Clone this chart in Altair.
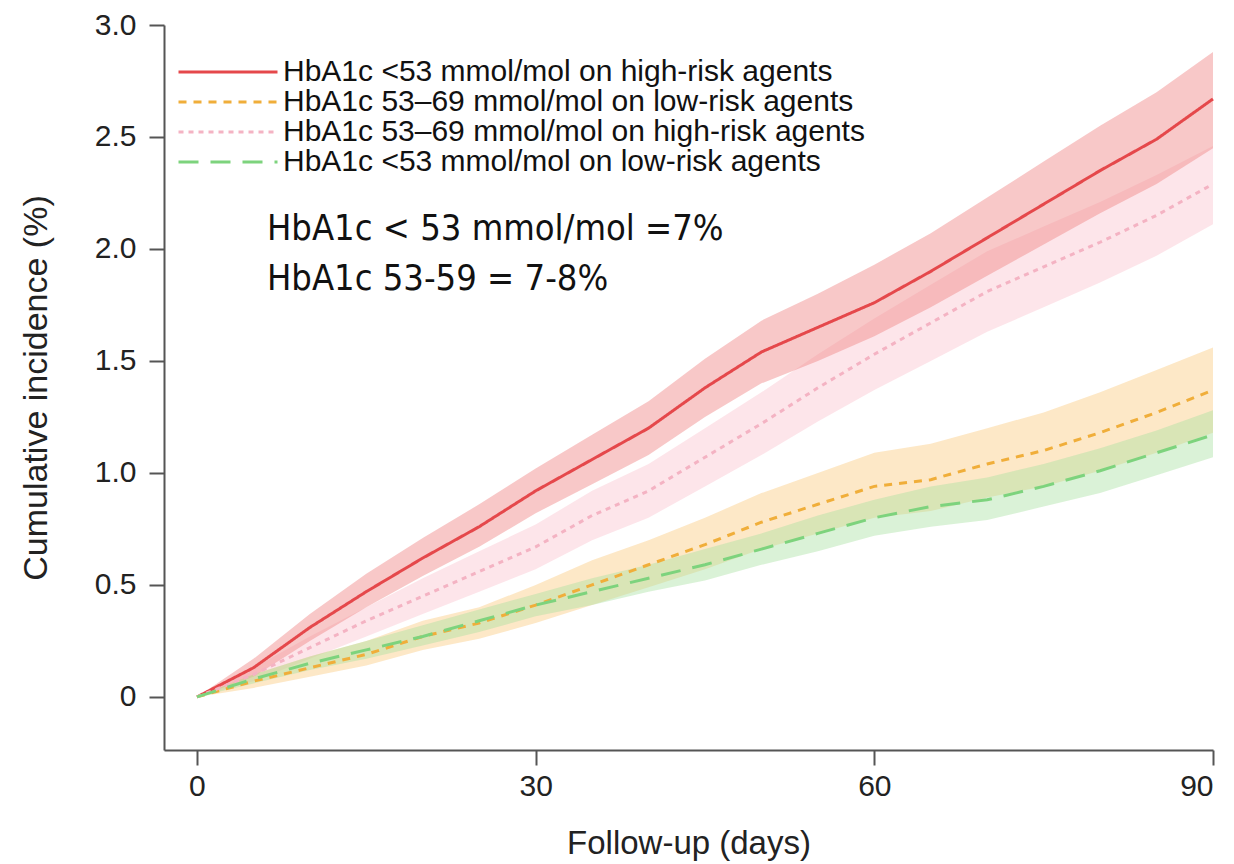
import altair as alt
import pandas as pd

days = [0, 5, 10, 15, 20, 25, 30, 35, 40, 45, 50, 55, 60, 65, 70, 75, 80, 85, 90]

series_names = [
    "HbA1c <53 mmol/mol on high-risk agents",
    "HbA1c 53\u201369 mmol/mol on low-risk agents",
    "HbA1c 53\u201369 mmol/mol on high-risk agents",
    "HbA1c <53 mmol/mol on low-risk agents",
]

# HbA1c <53 on high-risk (red, solid)
red_mid = [0, 0.13, 0.31, 0.47, 0.62, 0.76, 0.92, 1.06, 1.20, 1.38, 1.54, 1.65, 1.76, 1.90, 2.05, 2.20, 2.35, 2.49, 2.67]
red_lo = [0, 0.09, 0.25, 0.40, 0.54, 0.67, 0.82, 0.95, 1.08, 1.25, 1.40, 1.50, 1.61, 1.74, 1.88, 2.02, 2.16, 2.29, 2.45]
red_hi = [0, 0.17, 0.37, 0.55, 0.71, 0.86, 1.02, 1.17, 1.32, 1.51, 1.68, 1.80, 1.93, 2.07, 2.23, 2.39, 2.55, 2.70, 2.88]

# HbA1c 53-69 on low-risk (orange, dashed)
ora_mid = [0, 0.07, 0.13, 0.19, 0.27, 0.33, 0.41, 0.50, 0.59, 0.68, 0.78, 0.86, 0.94, 0.97, 1.04, 1.10, 1.18, 1.27, 1.37]
ora_lo = [0, 0.04, 0.09, 0.14, 0.21, 0.26, 0.33, 0.41, 0.49, 0.57, 0.66, 0.73, 0.80, 0.83, 0.89, 0.94, 1.01, 1.09, 1.18]
ora_hi = [0, 0.10, 0.18, 0.25, 0.34, 0.40, 0.50, 0.61, 0.70, 0.80, 0.91, 1.00, 1.09, 1.13, 1.20, 1.27, 1.36, 1.46, 1.56]

# HbA1c 53-69 on high-risk (pink, dotted)
pink_mid = [0, 0.10, 0.22, 0.34, 0.45, 0.56, 0.67, 0.81, 0.92, 1.07, 1.22, 1.38, 1.53, 1.67, 1.81, 1.92, 2.03, 2.15, 2.29]
pink_lo = [0, 0.07, 0.17, 0.27, 0.37, 0.47, 0.57, 0.70, 0.80, 0.94, 1.08, 1.23, 1.37, 1.50, 1.63, 1.74, 1.85, 1.97, 2.11]
pink_hi = [0, 0.13, 0.27, 0.40, 0.53, 0.65, 0.77, 0.92, 1.04, 1.20, 1.36, 1.53, 1.69, 1.84, 1.99, 2.10, 2.21, 2.33, 2.46]

# HbA1c <53 on low-risk (green, long dash)
grn_mid = [0, 0.08, 0.15, 0.21, 0.27, 0.34, 0.41, 0.47, 0.53, 0.59, 0.66, 0.73, 0.80, 0.85, 0.88, 0.94, 1.01, 1.09, 1.17]
grn_lo = [0, 0.06, 0.12, 0.17, 0.23, 0.29, 0.36, 0.41, 0.47, 0.52, 0.59, 0.65, 0.72, 0.76, 0.79, 0.85, 0.91, 0.99, 1.07]
grn_hi = [0, 0.10, 0.18, 0.25, 0.32, 0.39, 0.46, 0.53, 0.59, 0.66, 0.73, 0.81, 0.88, 0.94, 0.98, 1.04, 1.11, 1.19, 1.28]

line_colors = ["#e5484b", "#f0ae3a", "#f4b3c3", "#7dd37d"]
band_colors = ["#f08484", "#f9c673", "#fbc6d1", "#a6dfa0"]
band_opacity = [0.45, 0.4, 0.45, 0.42]
dashes = [[1, 0], [8, 7], [5, 5], [20, 12]]

annot_text = ["HbA1c < 53 mmol/mol =7%", "HbA1c 53-59 = 7-8%"]
annot_x = [6.2, 6.2]
annot_y = [2.038, 1.817]

y_ticks = [0, 0.5, 1.0, 1.5, 2.0, 2.5, 3.0]
x_ticks = [0, 30, 60, 90]

mids = [red_mid, ora_mid, pink_mid, grn_mid]
los = [red_lo, ora_lo, pink_lo, grn_lo]
his = [red_hi, ora_hi, pink_hi, grn_hi]
rows = []
for name, m, lo, hi in zip(series_names, mids, los, his):
    for d, a, b, c in zip(days, m, lo, hi):
        rows.append({"day": d, "series": name, "mid": a, "lo": b, "hi": c})
df = pd.DataFrame(rows)
annot = pd.DataFrame({"text": annot_text, "x": annot_x, "y": annot_y})

xs = alt.Scale(domain=[-2.92, 90], nice=False, zero=False)
ys = alt.Scale(domain=[-0.237, 3.0], nice=False, zero=False)

x_enc = alt.X("day:Q", scale=xs, title="Follow-up (days)",
              axis=alt.Axis(values=x_ticks, grid=False, labelFontSize=30, titleFontSize=33,
                            labelPadding=6, titlePadding=26, tickSize=15,
                            labelFont="Liberation Sans", titleFont="Liberation Sans",
                            titleFontWeight="normal", domainColor="#555", tickColor="#555",
                            domainWidth=2, tickWidth=2, labelColor="#222", titleColor="#222"))
y_axis = alt.Axis(values=y_ticks, grid=False, labelFontSize=30, titleFontSize=34,
                  labelPadding=13, titlePadding=41, tickSize=15,
                  labelExpr="datum.value == 0 ? '0' : format(datum.value, '.1f')",
                  labelFont="Liberation Sans", titleFont="Liberation Sans",
                  titleFontWeight="normal", domainColor="#555", tickColor="#555",
                  domainWidth=2, tickWidth=2, labelColor="#222", titleColor="#222")

band_order = [series_names[2], series_names[0], series_names[1], series_names[3]]

band_layers = []
for name in band_order:
    i = series_names.index(name)
    band_layers.append(
        alt.Chart(df).transform_filter(alt.datum.series == name).mark_area(
            opacity=band_opacity[i], color=band_colors[i]
        ).encode(
            x=x_enc,
            y=alt.Y("lo:Q", scale=ys, title="Cumulative incidence (%)", axis=y_axis),
            y2="hi:Q",
        )
    )

legend_kw = dict(title=None, orient="none", legendX=13, legendY=32,
                 symbolType="stroke", symbolSize=9801, symbolStrokeWidth=3,
                 labelFontSize=30, labelFont="Liberation Sans", labelColor="#111",
                 labelOffset=4, rowPadding=0, clipHeight=30, labelLimit=1200)

lines = alt.Chart(df).mark_line(strokeWidth=3).encode(
    x=x_enc,
    y=alt.Y("mid:Q", scale=ys, title="Cumulative incidence (%)", axis=y_axis),
    color=alt.Color("series:N", scale=alt.Scale(domain=series_names, range=line_colors),
                    legend=alt.Legend(**legend_kw)),
    strokeDash=alt.StrokeDash("series:N", scale=alt.Scale(domain=series_names, range=dashes),
                              legend=alt.Legend(**legend_kw)),
)

texts = alt.Chart(annot).mark_text(
    align="left", baseline="alphabetic", fontSize=36,
    font="DejaVu Sans Condensed", color="#111"
).encode(
    x=alt.X("x:Q", scale=xs),
    y=alt.Y("y:Q", scale=ys),
    text="text:N",
)

chart = alt.layer(*band_layers, lines, texts).properties(
    width=1049, height=725,
    autosize=alt.AutoSizeParams(type="none"),
    padding={"left": 156, "top": 17, "right": 10, "bottom": 112},
).configure_view(stroke=None)

chart.save("out.html", embed_options={"renderer": "svg", "actions": False})
